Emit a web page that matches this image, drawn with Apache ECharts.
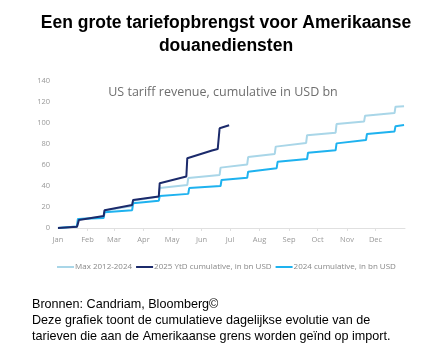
<!DOCTYPE html>
<html>
<head>
<meta charset="utf-8">
<script src="https://cdn.jsdelivr.net/npm/echarts@6/dist/echarts.min.js"></script>
<style>
html,body{margin:0;padding:0;background:#fff;}
#c{width:443px;height:357px;}
</style>
</head>
<body>
<div id="c"></div>
<script>
// Day-of-year month starts and labels
var monthDays = [0, 31, 59, 90, 120, 151, 181, 212, 243, 273, 304, 334];
var monthLabels = ['Jan','Feb','Mar','Apr','May','Jun','Jul','Aug','Sep','Oct','Nov','Dec'];
var yTicks = [0, 20, 40, 60, 80, 100, 120, 140];

// [day of year, cumulative USD bn]
var maxSeries = [[0,0],[20,1.4],[21,8.4],[48,10.8],[49,16.6],[78,21],[79,26],[106,30],[107,38],[136,41],[137,47.6],[170,50.5],[171,57.5],[199,60.5],[200,67.6],[228,70.5],[229,77.5],[261,81],[262,88.4],[292,90.8],[293,99],[322,101.5],[323,107],[354,109.5],[355,115.5],[364,116]];
var ytd2025 = [[0,0],[20,1.3],[22,7.6],[48,11.4],[49,17],[78,22],[79,26.7],[106,30],[107,42.7],[135,49],[136,66.5],[162,73.8],[168,75.2],[170,95],[180,97.8]];
var cum2024 = [[0,0],[20,1.5],[21,8.6],[48,9.5],[49,15],[78,17],[79,23.5],[106,26],[107,30.5],[137,32.5],[138,38],[171,40],[172,45.7],[199,47.8],[200,53.6],[230,57],[231,63],[262,65.7],[263,71.7],[292,74],[293,80.6],[324,83.8],[325,89.5],[354,92],[355,97],[364,98]];

var names = ['Max 2012-2024', '2025 YtD cumulative, in bn USD', '2024 cumulative, in bn USD'];
var colors = ['#a9d6e8', '#1b2a6b', '#1eb2ef'];

var chart = echarts.init(document.getElementById('c'));
chart.setOption({
  animation: false,
  title: [
    {text: 'Een grote tariefopbrengst voor Amerikaanse\ndouanediensten', left: 221, top: 7, textAlign: 'center',
     textStyle: {fontFamily: 'Liberation Sans, Arial', fontWeight: 'bold', fontSize: 17.5, lineHeight: 23, color: '#000'}},
    {text: 'US tariff revenue, cumulative in USD bn', left: 218, top: 81, textAlign: 'center',
     textStyle: {fontFamily: 'Open Sans', fontWeight: 'normal', fontSize: 12.5, color: '#6e6e6e'}},
    {text: 'Bronnen: Candriam, Bloomberg©\nDeze grafiek toont de cumulatieve dagelijkse evolutie van de\ntarieven die aan de Amerikaanse grens worden geïnd op import.', left: 27, top: 292,
     textStyle: {fontFamily: 'Liberation Sans, Arial', fontWeight: 'normal', fontSize: 12.6, lineHeight: 16, color: '#000'}}
  ],
  legend: {
    top: 258, left: 52, itemWidth: 17, itemHeight: 2, itemGap: 4,
    icon: 'rect',
    textStyle: {fontFamily: 'Open Sans', fontSize: 8, color: '#888', padding: [0,0,0,-4]},
    data: names
  },
  grid: {left: 58, right: 38, top: 81, bottom: 129},
  xAxis: {
    type: 'value', min: 0, max: 365,
    axisLine: {show: true, lineStyle: {color: '#e0e0e0'}},
    axisTick: {show: true, customValues: monthDays.slice(1), length: 3, lineStyle: {color: '#e0e0e0'}},
    splitLine: {show: false},
    axisLabel: {customValues: monthDays, fontFamily: 'Open Sans', fontSize: 7.5, color: '#999', margin: 8,
      formatter: function (v) { var i = monthDays.indexOf(v); return i >= 0 ? monthLabels[i] : ''; }}
  },
  yAxis: {
    type: 'value', min: yTicks[0], max: yTicks[yTicks.length - 1], interval: 20,
    axisLine: {show: false}, axisTick: {show: false}, splitLine: {show: false},
    axisLabel: {fontFamily: 'Open Sans', fontSize: 7.5, color: '#999', margin: 8}
  },
  series: [
    {name: names[0], type: 'line', data: maxSeries, showSymbol: false, lineStyle: {width: 2, color: colors[0]}, itemStyle: {color: colors[0]}, z: 2},
    {name: names[2], type: 'line', data: cum2024, showSymbol: false, lineStyle: {width: 2, color: colors[2]}, itemStyle: {color: colors[2]}, z: 3},
    {name: names[1], type: 'line', data: ytd2025, showSymbol: false, lineStyle: {width: 2, color: colors[1]}, itemStyle: {color: colors[1]}, z: 4}
  ]
});
</script>
</body>
</html>
